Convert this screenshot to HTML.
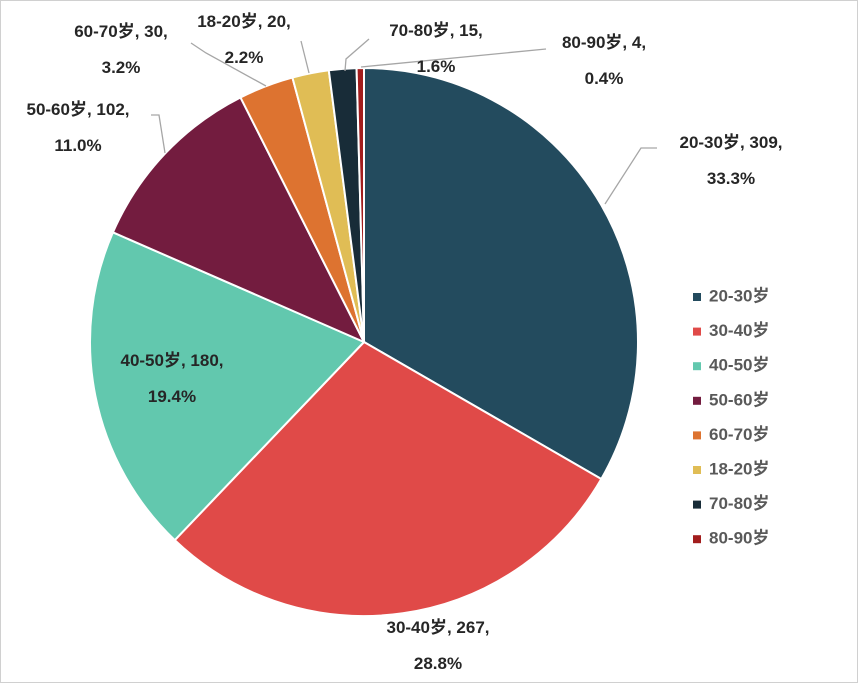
<!DOCTYPE html>
<html><head><meta charset="utf-8">
<style>
body{margin:0;background:#fff;}
#wrap{position:relative;width:858px;height:683px;box-sizing:border-box;border:1px solid #d0d0d0;overflow:hidden;}
svg text{font-family:"Liberation Sans","Noto Sans CJK SC",sans-serif;font-weight:bold;font-size:17px;fill:#262626;}
</style></head>
<body>
<div id="wrap">
<svg id="chart" width="858" height="683"></svg>
</div>
<script>
const categories=["20-30岁","30-40岁","40-50岁","50-60岁","60-70岁","18-20岁","70-80岁","80-90岁"];
const values=[309,267,180,102,30,20,15,4];
const percents=["33.3%","28.8%","19.4%","11.0%","3.2%","2.2%","1.6%","0.4%"];
const colors=["#234B5E","#E04A48","#62C8AE","#731C3F","#DD7330","#E0BD55","#182C38","#A21D1D"];
const labelPos=[[730,143],[437,628],[171,361],[77,110],[120,32],[243,22],[435,31],[603,43]];
const leaders=[
 [[604,203],[640,147],[656,147]],
 null,null,
 [[164,152],[158,114],[150,114]],
 [[265,85],[205,52],[190,42]],
 [[308,72],[300,40]],
 [[344,70],[345,58],[368,38]],
 [[360,66],[545,48]]
];
const NS="http://www.w3.org/2000/svg";
const svg=document.getElementById('chart');
const cx=363,cy=341,r=274;
const total=values.reduce((a,b)=>a+b,0);
function pt(a,rr){return [cx+rr*Math.sin(a),cy-rr*Math.cos(a)];}
let a0=0;
values.forEach((v,i)=>{
  const a1=a0+v/total*Math.PI*2;
  const p0=pt(a0,r),p1=pt(a1,r);
  const large=(a1-a0)>Math.PI?1:0;
  const p=document.createElementNS(NS,'path');
  p.setAttribute('d',`M${cx},${cy}L${p0[0]},${p0[1]}A${r},${r} 0 ${large} 1 ${p1[0]},${p1[1]}Z`);
  p.setAttribute('fill',colors[i]);
  p.setAttribute('stroke','#fff');
  p.setAttribute('stroke-width','2');
  
  
  svg.appendChild(p);
  a0=a1;
});
leaders.forEach((l,i)=>{
  if(!l)return;
  const pl=document.createElementNS(NS,'polyline');
  pl.setAttribute('points',l.map(q=>q.join(',')).join(' '));
  pl.setAttribute('fill','none');
  pl.setAttribute('stroke','#a6a6a6');
  pl.setAttribute('stroke-width','1.3');
  
  
  svg.appendChild(pl);
});
categories.forEach((c,i)=>{
  const [x,y]=labelPos[i];
  const t=document.createElementNS(NS,'text');
  t.setAttribute('x',x);t.setAttribute('y',y);
  t.setAttribute('text-anchor','middle');
  t.setAttribute('dominant-baseline','middle');
  
  
  const s1=document.createElementNS(NS,'tspan');
  s1.setAttribute('x',x);s1.textContent=c+", "+values[i]+",";
  const s2=document.createElementNS(NS,'tspan');
  s2.setAttribute('x',x);s2.setAttribute('dy','36');s2.textContent=percents[i];
  t.appendChild(s1);t.appendChild(s2);
  svg.appendChild(t);
});
categories.forEach((c,i)=>{
  const y=296+i*34.6;
  const g=document.createElementNS(NS,'g');
  
  
  const rc=document.createElementNS(NS,'rect');
  rc.setAttribute('x',692);rc.setAttribute('y',y-4);rc.setAttribute('width',8);rc.setAttribute('height',8);
  rc.setAttribute('fill',colors[i]);
  const t=document.createElementNS(NS,'text');
  t.setAttribute('x',708);t.setAttribute('y',y);
  t.setAttribute('dominant-baseline','middle');
  t.setAttribute('style','fill:#595959');
  t.textContent=c;
  g.appendChild(rc);g.appendChild(t);
  svg.appendChild(g);
});
</script>
</body></html>
